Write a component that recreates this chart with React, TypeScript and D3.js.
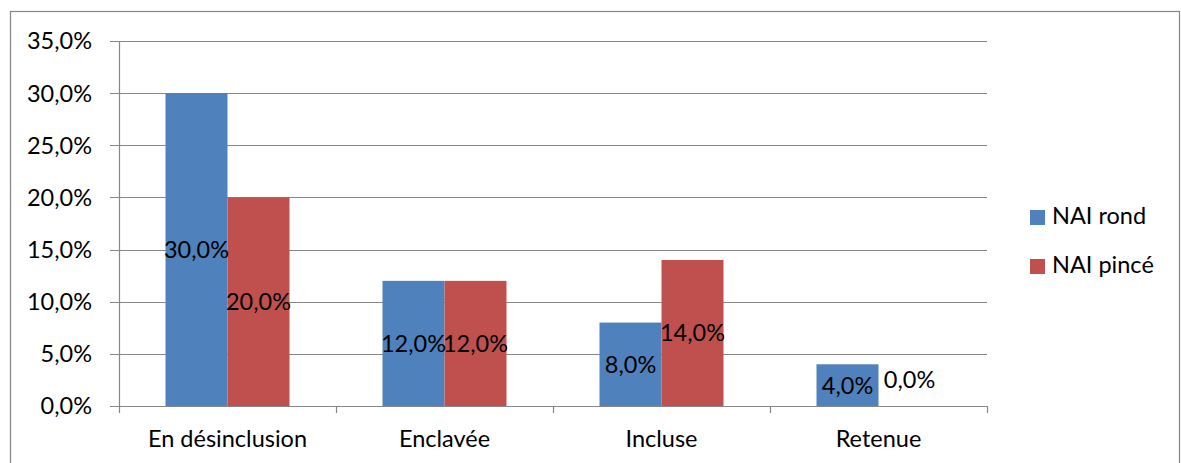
import React from "react";
import * as d3 from "d3";

const categories = ["En désinclusion", "Enclavée", "Incluse", "Retenue"];
const seriesNames = ["NAI rond", "NAI pincé"];
const nairond = [30, 12, 8, 4];
const naipince = [20, 12, 14, 0];
const yTicks = [0, 5, 10, 15, 20, 25, 30, 35];

const colors = ["#4F81BD", "#C0504D"];
const FONT = "Lato, 'Open Sans', sans-serif";
const FS = 23.5;

export default function App() {
  const W = 1181, H = 463;
  const left = 119, right = 987, top = 41, bottom = 406;
  const x = d3.scaleBand<string>().domain(categories).range([left, right]).paddingInner(0).paddingOuter(0);
  const y = d3.scaleLinear().domain([0, 35]).range([bottom, top]);
  const inner = d3.scaleBand<string>().domain(seriesNames).range([0, x.bandwidth()]).paddingInner(0).paddingOuter(0.75);
  const series = [nairond, naipince];
  const fmt = (v: number) => v.toFixed(1).replace(".", ",") + "%";
  const grid = "#878787";
  const bounds = [...categories.map((c) => x(c)!), right];

  return (
    <svg width={W} height={H} style={{ position: "absolute", left: 0, top: 0, background: "#fff" }} fontFamily={FONT}>
      <rect x={10.5} y={11.5} width={1169} height={470} fill="#fff" stroke="#868686" strokeWidth={1.2} />
      {yTicks.map((t) => (
        <g key={t}>
          <line x1={110} x2={right} y1={Math.round(y(t)) + 0.5} y2={Math.round(y(t)) + 0.5} stroke={grid} strokeWidth={1.2} />
          <text x={92} y={y(t)} dy="0.36em" textAnchor="end" fontSize={FS} fill="#000">{fmt(t)}</text>
        </g>
      ))}
      <line x1={left + 0.5} x2={left + 0.5} y1={top} y2={bottom} stroke={grid} strokeWidth={1.2} />
      {bounds.map((b, i) => (
        <line key={i} x1={Math.round(b) + 0.5} x2={Math.round(b) + 0.5} y1={bottom} y2={413} stroke={grid} strokeWidth={1.2} />
      ))}
      {categories.map((c, ci) => (
        <g key={c}>
          {series.map((s, si) => {
            const bx = x(c)! + inner(seriesNames[si])!;
            const bw = inner.bandwidth();
            return (
              <rect key={si} x={bx} y={y(s[ci])} width={bw} height={bottom - y(s[ci])} fill={colors[si]} />
            );
          })}
        </g>
      ))}
      {categories.map((c, ci) => (
        <g key={c + "l"}>
          {series.map((s, si) => {
            const bx = x(c)! + inner(seriesNames[si])! + inner.bandwidth() / 2;
            const cy = (y(s[ci]) + bottom) / 2;
            return (
              <text key={si} x={bx} y={s[ci] === 0 ? bottom - 26 : cy} dy="0.36em" textAnchor="middle" fontSize={FS} fill="#000">{fmt(s[ci])}</text>
            );
          })}
          <text x={x(c)! + x.bandwidth() / 2} y={447} textAnchor="middle" fontSize={FS} fill="#000">{c}</text>
        </g>
      ))}
      {seriesNames.map((n, i) => (
        <g key={n}>
          <rect x={1030} y={210 + i * 49} width={15} height={15} fill={colors[i]} />
          <text x={1052} y={224 + i * 49} fontSize={FS} fill="#000">{n}</text>
        </g>
      ))}
    </svg>
  );
}
